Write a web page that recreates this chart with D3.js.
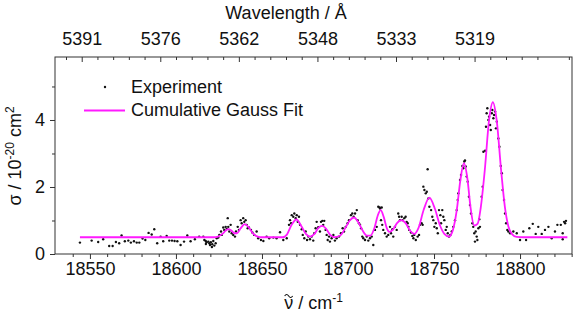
<!DOCTYPE html>
<html>
<head>
<meta charset="utf-8">
<script src="https://cdn.jsdelivr.net/npm/d3@7"></script>
<style>
  body { margin: 0; background: #fff; }
  text { font-family: "Liberation Sans", Arial, sans-serif; fill: #111; }
</style>
</head>
<body>
<script>
// wavenumber / cm-1 vs cross section (1e-20 cm2)
var experiment = [
  [18544.2,0.34],[18551.0,0.40],[18554.8,0.36],[18557.7,0.44],[18561.2,0.24],[18563.2,0.24],[18565.1,0.36],
  [18567.0,0.32],[18568.4,0.55],[18570.3,0.38],[18572.3,0.40],[18573.8,0.34],[18575.6,0.38],[18577.2,0.34],
  [18578.7,0.34],[18580.6,0.46],[18582.2,0.42],[18584.1,0.63],[18585.9,0.58],[18587.4,0.74],[18589.1,0.32],
  [18591.1,0.52],[18592.6,0.38],[18594.6,0.54],[18596.1,0.40],[18597.7,0.40],[18599.2,0.39],[18600.8,0.38],
  [18602.7,0.27],[18604.7,0.37],[18606.6,0.55],[18608.5,0.38],[18611.0,0.44],[18613.5,0.52],[18615.9,0.52],
  [18616.5,0.42],[18617.3,0.39],[18617.8,0.35],[18618.8,0.37],[18619.4,0.32],[18620.3,0.35],[18621.1,0.29],
  [18621.7,0.39],[18622.3,0.25],[18623.1,0.32],[18617.4,0.30],[18619.8,0.27],[18620.9,0.21],[18623.7,0.47],
  [18624.6,0.49],[18625.2,0.57],[18626.2,0.67],[18626.6,0.57],[18627.5,0.79],[18628.1,0.72],[18628.9,0.81],
  [18629.5,0.75],[18630.1,1.07],[18630.4,0.81],[18631.0,0.67],[18631.8,0.87],[18632.4,0.62],[18633.3,0.57],
  [18634.3,0.52],[18634.9,0.67],[18635.9,0.81],[18636.6,0.72],[18637.6,1.01],[18638.2,0.92],[18639.1,1.07],
  [18639.7,0.96],[18640.5,1.01],[18641.1,0.87],[18641.7,0.77],[18642.4,0.79],[18643.6,0.72],[18644.4,0.64],
  [18645.5,0.57],[18646.9,0.67],[18647.8,0.47],[18649.4,0.42],[18650.8,0.39],[18652.7,0.52],[18654.2,0.47],
  [18656.6,0.49],[18658.5,0.47],[18660.5,0.65],[18662.4,0.42],[18664.4,0.47],[18665.7,0.87],[18666.3,1.01],
  [18666.9,0.92],[18667.3,1.16],[18668.2,1.11],[18668.8,1.21],[18669.6,1.07],[18670.2,1.16],[18670.8,0.96],
  [18671.5,1.11],[18672.1,0.87],[18673.1,0.74],[18673.7,0.57],[18674.6,0.47],[18675.4,0.67],[18676.2,0.42],
  [18676.9,0.52],[18677.9,0.44],[18678.9,0.52],[18679.8,0.40],[18680.4,0.62],[18681.2,0.77],[18681.8,0.96],
  [18682.7,0.80],[18683.7,0.67],[18684.3,0.96],[18685.1,0.99],[18685.6,0.87],[18686.2,0.99],[18687.0,0.72],
  [18687.6,0.57],[18688.2,0.42],[18689.0,0.52],[18689.5,0.37],[18690.5,0.47],[18691.5,0.57],[18692.4,0.40],
  [18693.4,0.47],[18694.8,0.52],[18695.9,0.62],[18696.9,0.77],[18697.7,0.67],[18698.7,0.81],[18699.8,0.92],
  [18700.6,1.01],[18701.7,1.16],[18702.5,1.21],[18703.3,1.11],[18704.1,1.21],[18705.1,1.31],[18705.6,1.01],
  [18706.4,0.92],[18707.0,0.87],[18707.6,0.77],[18708.3,0.52],[18708.9,0.47],[18709.9,0.42],[18710.9,0.52],
  [18711.8,0.40],[18712.8,0.47],[18713.8,0.52],[18714.7,0.27],[18715.7,0.72],[18716.7,0.81],[18717.6,1.41],
  [18718.4,1.39],[18718.6,1.36],[18719.6,1.39],[18719.2,1.01],[18719.9,0.87],[18720.5,0.72],[18721.5,0.62],
  [18722.5,0.52],[18723.4,0.57],[18724.4,0.81],[18725.0,0.62],[18725.8,0.74],[18726.3,0.52],[18727.3,0.81],
  [18728.3,0.72],[18729.2,1.21],[18729.7,1.11],[18730.2,1.01],[18731.2,1.11],[18731.7,1.01],[18732.7,1.07],
  [18733.5,1.11],[18734.1,0.96],[18734.7,0.92],[18735.1,0.81],[18735.6,0.72],[18736.6,0.64],[18737.4,0.54],
  [18738.0,0.47],[18738.5,0.57],[18739.4,0.42],[18740.5,0.52],[18741.3,0.57],[18741.9,0.87],[18742.8,0.92],
  [18743.4,0.87],[18743.8,2.01],[18744.4,1.91],[18745.2,1.81],[18745.8,1.86],[18746.3,2.53],[18746.7,1.66],
  [18747.3,1.41],[18748.3,1.31],[18749.0,1.11],[18749.6,1.01],[18750.2,0.81],[18751.0,0.92],[18751.6,0.77],
  [18752.2,0.62],[18752.9,1.31],[18753.7,1.16],[18754.1,0.92],[18754.8,1.31],[18755.4,1.11],[18756.0,1.01],
  [18756.8,0.72],[18757.4,0.81],[18758.0,0.62],[18758.7,0.52],[18759.5,0.57],[18760.3,0.67],[18761.2,0.81],
  [18762.2,1.01],[18763.2,1.31],[18763.8,1.61],[18764.1,1.81],[18765.1,2.21],[18765.7,2.36],[18766.5,2.63],
  [18767.0,2.56],[18767.6,2.76],[18768.0,2.79],[18768.4,2.61],[18769.0,2.31],[18769.6,2.16],[18770.3,1.71],
  [18770.9,1.46],[18771.5,1.21],[18772.3,0.92],[18772.8,0.81],[18773.4,0.62],[18774.2,0.67],[18773.8,0.37],
  [18774.8,0.52],[18775.8,0.77],[18775.2,0.42],[18776.3,1.04],[18776.7,0.81],[18777.7,1.71],[18778.3,2.01],
  [18778.7,3.05],[18779.7,3.08],[18780.2,3.80],[18780.6,4.20],[18781.0,4.35],[18781.6,4.00],[18782.0,4.10],
  [18782.6,3.85],[18783.0,3.70],[18783.6,4.20],[18783.9,4.30],[18784.5,4.05],[18784.9,4.15],[18785.5,4.25],
  [18786.0,3.75],[18786.5,3.95],[18787.4,3.45],[18788.0,3.20],[18788.8,2.63],[18789.4,2.41],[18789.9,1.91],
  [18790.7,1.61],[18791.3,1.21],[18791.9,0.92],[18792.6,0.72],[18793.2,0.67],[18794.2,0.62],[18796.1,0.67],
  [18798.1,0.62],[18800.0,0.42],[18801.9,0.67],[18803.5,0.42],[18805.4,0.77],[18807.4,0.90],[18809.1,0.60],
  [18810.6,0.81],[18812.6,0.60],[18814.5,0.72],[18816.5,0.81],[18818.4,0.47],[18820.3,0.67],[18821.7,0.87],
  [18823.7,0.87],[18824.8,0.62],[18824.8,0.44],[18825.6,0.96],[18826.2,0.92],[18826.7,0.99]
];

var gaussFit = [
  [18544.2,0.5],[18622,0.5],[18624.5,0.52],[18627,0.6],[18629,0.7],[18630.5,0.74],[18632,0.71],[18634,0.62],
  [18635.5,0.62],[18637.5,0.76],[18640,0.89],[18642.5,0.78],[18645,0.6],[18647.5,0.52],[18650,0.5],[18662,0.5],
  [18664.5,0.58],[18667,0.85],[18670,1.03],[18673,0.82],[18675.5,0.6],[18678,0.52],[18680.5,0.6],[18682.8,0.78],
  [18685,0.84],[18687.2,0.76],[18689.5,0.58],[18692,0.5],[18695.5,0.55],[18698.5,0.78],[18701,1.0],[18703.5,1.09],
  [18706,0.95],[18708.5,0.7],[18711,0.55],[18713,0.55],[18715.5,0.8],[18717.3,1.15],[18719,1.31],[18720.8,1.1],
  [18722.5,0.78],[18724,0.66],[18726,0.72],[18728.5,0.92],[18731,1.01],[18733.5,0.92],[18736,0.7],[18738.5,0.6],
  [18741,0.78],[18744,1.32],[18747.3,1.68],[18750.5,1.35],[18753.5,0.85],[18756,0.6],[18758.7,0.52],[18761,0.72],
  [18763.2,1.3],[18765.3,2.2],[18767.4,2.71],[18769.4,2.25],[18771.2,1.4],[18773.3,0.85],[18775.3,0.9],
  [18777.2,1.4],[18779.5,2.5],[18782,4.0],[18784.2,4.53],[18786.4,4.0],[18789,2.5],[18791.2,1.4],[18793.2,0.83],
  [18795.2,0.6],[18798,0.51],[18802,0.5],[18827.5,0.5]
];

var xTicks = [18550, 18600, 18650, 18700, 18750, 18800];
var yTicks = [0, 2, 4];
var yMinor = [1, 3, 5];
var topTickLabels = ["5391", "5376", "5362", "5348", "5333", "5319"];

var W = 575, H = 314;
var plotL = 55, plotR = 572, plotT = 57, plotB = 254;

var svg = d3.select("body").append("svg")
    .attr("width", W)
    .attr("height", H);

var x = d3.scaleLinear().domain([18529.7, 18830.2]).range([plotL, plotR]);
var y = d3.scaleLinear().domain([0, 5.88]).range([plotB, plotT]);
// top wavelength axis: evenly spaced ticks, indexed 0..5
var xTop = d3.scaleLinear().domain([-0.34, 6.24]).range([plotL, plotR]);

var minorX = d3.range(18540, 18831, 10).filter(function(d) { return xTicks.indexOf(d) < 0; });
var topMajor = d3.range(0, 6);
var topMinor = d3.range(-0.2, 6.24, 0.2).filter(function(d) { return Math.abs(d - Math.round(d)) > 0.05; });

// bottom axis
svg.append("g").attr("transform", "translate(0," + plotB + ")")
    .call(d3.axisBottom(x).tickValues(xTicks).tickSize(5).tickPadding(3).tickFormat(d3.format("d")));
svg.append("g").attr("transform", "translate(0," + plotB + ")")
    .call(d3.axisBottom(x).tickValues(minorX).tickSize(3).tickFormat(""));

// top axis (wavelength labels), ticks inward
svg.append("g").attr("transform", "translate(0," + plotT + ")")
    .call(d3.axisTop(xTop).tickValues(topMajor).tickSizeInner(-5).tickPadding(12)
      .tickFormat(function(d, i) { return topTickLabels[i]; }));
svg.append("g").attr("transform", "translate(0," + plotT + ")")
    .call(d3.axisTop(xTop).tickValues(topMinor).tickSizeInner(-3).tickFormat(""));

// left axis
svg.append("g").attr("transform", "translate(" + plotL + ",0)")
    .call(d3.axisLeft(y).tickValues(yTicks).tickSize(5).tickPadding(5).tickFormat(d3.format("d")));
svg.append("g").attr("transform", "translate(" + plotL + ",0)")
    .call(d3.axisLeft(y).tickValues(yMinor).tickSize(3).tickFormat(""));

svg.selectAll(".domain").remove();
svg.selectAll(".tick line").attr("stroke", "#333");
svg.selectAll(".tick text").style("font-size", "18px").attr("fill", "#111");

svg.append("rect")
    .attr("x", plotL).attr("y", plotT)
    .attr("width", plotR - plotL).attr("height", plotB - plotT)
    .attr("fill", "none").attr("stroke", "#333").attr("stroke-width", 1);

// data
svg.append("g").selectAll("circle")
    .data(experiment)
    .enter().append("circle")
    .attr("cx", function(d) { return x(d[0]); })
    .attr("cy", function(d) { return y(d[1]); })
    .attr("r", 1.2)
    .attr("fill", "#111");

var line = d3.line()
    .x(function(d) { return x(d[0]); })
    .y(function(d) { return y(d[1]); })
    .curve(d3.curveMonotoneX);

svg.append("path")
    .datum(gaussFit)
    .attr("d", line)
    .attr("fill", "none")
    .attr("stroke", "#ff1aff")
    .attr("stroke-width", 1.8);

// titles
svg.append("text")
    .attr("x", 286).attr("y", 19)
    .attr("text-anchor", "middle")
    .style("font-size", "18px")
    .text("Wavelength / Å");

var xt = svg.append("text")
    .attr("x", (plotL + plotR) / 2).attr("y", 309)
    .attr("text-anchor", "middle")
    .style("font-size", "18px");
xt.append("tspan").attr("class", "nu").text("ν");
xt.append("tspan").text(" / cm");
xt.append("tspan").attr("dy", -7).style("font-size", "12px").text("-1");
// tilde over nu drawn as a small stroke
var nuBox = xt.select(".nu").node().getBBox();
var tx = nuBox.x + nuBox.width / 2, ty = nuBox.y + 2;
svg.append("path")
    .attr("d", "M" + (tx - 4) + "," + (ty + 1) + " q2,-3 4,0 t4,0")
    .attr("fill", "none").attr("stroke", "#111").attr("stroke-width", 1.1);

var yt = svg.append("text")
    .attr("transform", "translate(21,156) rotate(-90)")
    .attr("text-anchor", "middle")
    .style("font-size", "18px");
yt.append("tspan").text("σ / 10");
yt.append("tspan").attr("dy", -7).style("font-size", "12px").text("-20");
yt.append("tspan").attr("dy", 7).text(" cm");
yt.append("tspan").attr("dy", -7).style("font-size", "12px").text("2");

// legend
var lg = svg.append("g");
lg.append("circle").attr("cx", 105).attr("cy", 87).attr("r", 1.2).attr("fill", "#111");
lg.append("text").attr("x", 131).attr("y", 93).style("font-size", "18px").text("Experiment");
lg.append("line").attr("x1", 84).attr("x2", 125).attr("y1", 110.5).attr("y2", 110.5)
    .attr("stroke", "#ff1aff").attr("stroke-width", 1.8);
lg.append("text").attr("x", 131).attr("y", 116).style("font-size", "18px").text("Cumulative Gauss Fit");
</script>
</body>
</html>
